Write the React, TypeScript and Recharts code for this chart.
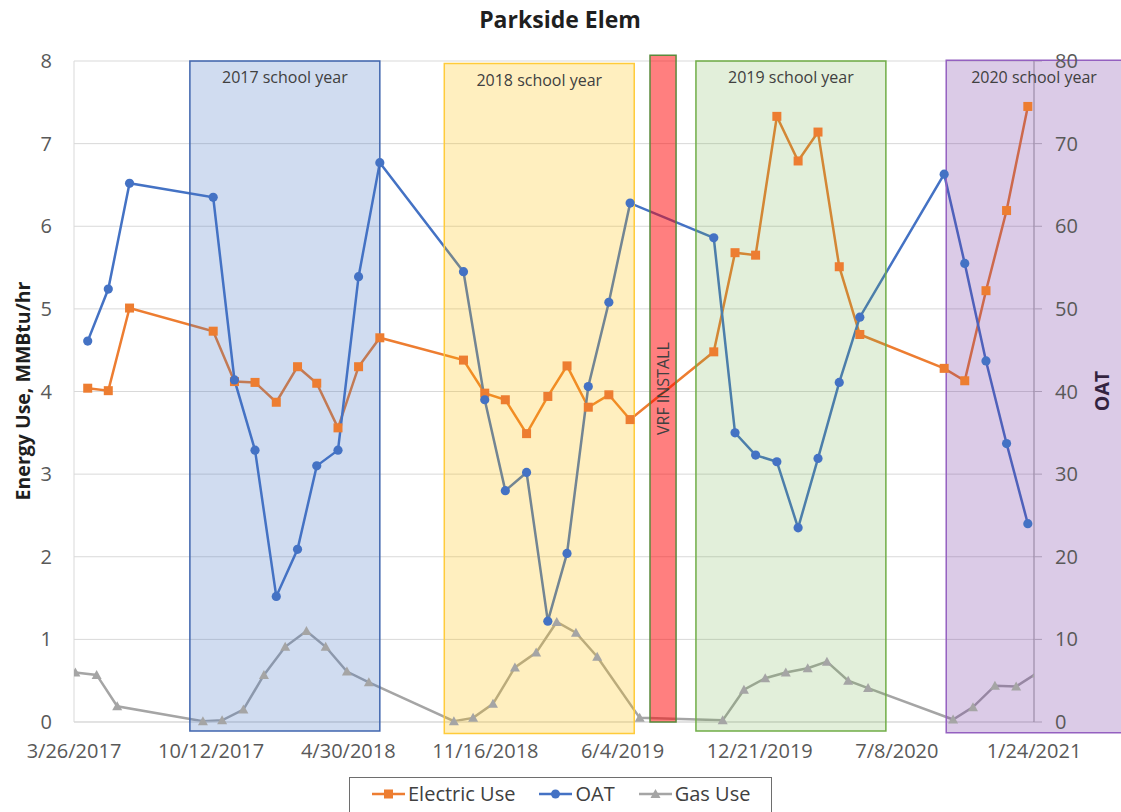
import React from "react";
import { LineChart, Line, XAxis, YAxis, CartesianGrid, ReferenceArea, Legend } from "recharts";

// monthly electric / OAT readings (mid-month)
const elecDates = [
  "2017-04-15", "2017-05-15", "2017-06-15",
  "2017-10-15", "2017-11-15", "2017-12-15", "2018-01-15", "2018-02-15", "2018-03-15", "2018-04-15", "2018-05-15", "2018-06-15",
  "2018-10-15", "2018-11-15", "2018-12-15", "2019-01-15", "2019-02-15", "2019-03-15", "2019-04-15", "2019-05-15", "2019-06-15",
  "2019-10-15", "2019-11-15", "2019-12-15", "2020-01-15", "2020-02-15", "2020-03-15", "2020-04-15", "2020-05-15",
  "2020-09-15", "2020-10-15", "2020-11-15", "2020-12-15", "2021-01-15",
];
const electricUse = [
  4.04, 4.01, 5.01,
  4.73, 4.12, 4.11, 3.87, 4.3, 4.1, 3.56, 4.3, 4.65,
  4.38, 3.98, 3.9, 3.49, 3.94, 4.31, 3.81, 3.96, 3.66,
  4.48, 5.68, 5.65, 7.33, 6.79, 7.14, 5.51, 4.69,
  4.28, 4.13, 5.22, 6.19, 7.45,
];
const oatValues = [
  46.1, 52.4, 65.2,
  63.5, 41.4, 32.9, 15.2, 20.9, 31.0, 32.9, 53.9, 67.7,
  54.5, 39.0, 28.0, 30.2, 12.2, 20.4, 40.6, 50.8, 62.8,
  58.6, 35.0, 32.3, 31.5, 23.5, 31.9, 41.1, 49.0,
  66.3, 55.5, 43.7, 33.7, 24.0,
];

// gas billing dates (end of month)
const gasDates = [
  "2017-03-28", "2017-04-28", "2017-05-28",
  "2017-09-30", "2017-10-28", "2017-11-28", "2017-12-28", "2018-01-28", "2018-02-28", "2018-03-28", "2018-04-28", "2018-05-30",
  "2018-10-01", "2018-10-29", "2018-11-27", "2018-12-29", "2019-01-29", "2019-02-28", "2019-03-28", "2019-04-28", "2019-06-29",
  "2019-10-28", "2019-11-28", "2019-12-29", "2020-01-28", "2020-02-29", "2020-03-28", "2020-04-28", "2020-05-27",
  "2020-09-28", "2020-10-27", "2020-11-28", "2020-12-29", "2021-01-28",
];
const gasUse = [
  0.6, 0.57, 0.19,
  0.01, 0.02, 0.15, 0.57, 0.91, 1.1, 0.91, 0.61, 0.48,
  0.01, 0.05, 0.22, 0.66, 0.84, 1.21, 1.08, 0.79, 0.05,
  0.02, 0.39, 0.53, 0.6, 0.65, 0.73, 0.5, 0.41,
  0.03, 0.18, 0.44, 0.43, 0.59,
];

const xTicks = ["2017-03-26", "2017-10-12", "2018-04-30", "2018-11-16", "2019-06-04", "2019-12-21", "2020-07-08", "2021-01-24"];
const leftTicks = [0, 1, 2, 3, 4, 5, 6, 7, 8];
const rightTicks = [0, 10, 20, 30, 40, 50, 60, 70, 80];
const legendOrder = ["electric", "oat", "gas"];

const periods = [
  { label: "2017 school year", start: "2017-09-11", end: "2018-06-15" },
  { label: "2018 school year", start: "2018-09-17", end: "2019-06-21" },
  { label: "VRF INSTALL", start: "2019-07-14", end: "2019-08-21" },
  { label: "2019 school year", start: "2019-09-19", end: "2020-06-22" },
  { label: "2020 school year", start: "2020-09-18", end: "2021-06-01" },
];

const periodStyles = [
  { fill: "#4472C4", op: 0.25, stroke: "#4066AE", lo: -0.11, hi: 8 },
  { fill: "#FFC000", op: 0.25, stroke: "#FFCB3A", lo: -0.14, hi: 7.97 },
  { fill: "#FF0000", op: 0.5, stroke: "#5A8A3C", lo: 0, hi: 8.07 },
  { fill: "#70AD47", op: 0.2, stroke: "#70AD47", lo: -0.11, hi: 8 },
  { fill: "#7030A0", op: 0.25, stroke: "#9460C0", lo: -0.13, hi: 8.01 },
];

const FONT = "'Open Sans', sans-serif";
const ELEC = "#ED7D31";
const OAT = "#4472C4";
const GAS = "#A5A5A5";

const toT = (s: string) => Date.parse(s);
const fmtDate = (v: number) => {
  const d = new Date(v);
  return `${d.getUTCMonth() + 1}/${d.getUTCDate()}/${d.getUTCFullYear()}`;
};

const elecData = elecDates.map((d, i) => ({ t: toT(d), electric: electricUse[i], oat: oatValues[i] }));
const gasData = gasDates.map((d, i) => ({ t: toT(d), gas: gasUse[i] }));

const squareDot = (p: any) =>
  p.cx == null ? <g key={p.key} /> : <rect key={p.key} x={p.cx - 4.5} y={p.cy - 4.5} width={9} height={9} fill={ELEC} />;
const circleDot = (p: any) =>
  p.cx == null ? <g key={p.key} /> : <circle key={p.key} cx={p.cx} cy={p.cy} r={4.6} fill={OAT} />;
const triDot = (p: any) =>
  p.cx == null ? (
    <g key={p.key} />
  ) : (
    <polygon key={p.key} points={`${p.cx},${p.cy - 5} ${p.cx + 5},${p.cy + 4} ${p.cx - 5},${p.cy + 4}`} fill={GAS} />
  );

function LegendIcon({ kind, color }: { kind: string; color: string }) {
  return (
    <svg width={33} height={20} style={{ display: "block", flexShrink: 0 }}>
      <line x1={0} y1={10} x2={33} y2={10} stroke={color} strokeWidth={2.5} />
      {kind === "electric" && <rect x={12} y={5.5} width={9} height={9} fill={color} />}
      {kind === "oat" && <circle cx={16.5} cy={10} r={4.5} fill={color} />}
      {kind === "gas" && <polygon points="16.5,5 21.5,14 11.5,14" fill={color} />}
    </svg>
  );
}

function LegendBox(props: any) {
  const items = [...((props.payload || []) as any[])].sort(
    (a, b) => legendOrder.indexOf(a.dataKey) - legendOrder.indexOf(b.dataKey)
  );
  return (
    <div
      style={{
        boxSizing: "border-box",
        height: 40,
        width: 423,
        border: "1px solid #6E6E6E",
        background: "#fff",
        display: "flex",
        alignItems: "center",
        paddingLeft: 22,
        paddingBottom: 6,
        fontFamily: FONT,
        whiteSpace: "nowrap",
      }}
    >
      {items.map((it) => (
        <div key={it.value} style={{ display: "flex", alignItems: "center", marginRight: 24, flexShrink: 0 }}>
          <LegendIcon kind={it.dataKey} color={it.color} />
          <span style={{ marginLeft: 3, fontSize: 20, color: "#404040", lineHeight: "26px", whiteSpace: "nowrap" }}>
            {it.value}
          </span>
        </div>
      ))}
    </div>
  );
}

export default function App() {
  return (
    <div style={{ width: 1121, height: 812, overflow: "hidden", position: "relative", background: "#fff", fontFamily: FONT }}>
      <style>{"body{margin:0}"}</style>
      <LineChart width={1121} height={812} margin={{ top: 61, right: 0, bottom: 0, left: 0 }}>
        <CartesianGrid yAxisId="left" vertical={false} stroke="#D9D9D9" />
        <XAxis
          dataKey="t"
          type="number"
          scale="linear"
          domain={[toT(xTicks[0]), toT(xTicks[xTicks.length - 1])]}
          ticks={xTicks.map(toT)}
          tickFormatter={fmtDate}
          allowDataOverflow
          interval={0}
          height={90}
          tickLine={false}
          tickSize={0}
          tickMargin={22}
          axisLine={{ stroke: "#D9D9D9" }}
          tick={{ fill: "#595959", fontSize: 20, fontFamily: FONT }}
        />
        <YAxis
          yAxisId="left"
          domain={[0, 8]}
          ticks={leftTicks}
          width={74}
          tickLine={false}
          tickSize={0}
          tickMargin={22}
          axisLine={{ stroke: "#D9D9D9" }}
          tick={{ fill: "#595959", fontSize: 20, fontFamily: FONT }}
        />
        <YAxis
          yAxisId="right"
          orientation="right"
          domain={[0, 80]}
          ticks={rightTicks}
          width={87}
          tickSize={8}
          tickMargin={13}
          tickLine={{ stroke: "#BFBFBF" }}
          axisLine={{ stroke: "#999999" }}
          tick={{ fill: "#595959", fontSize: 20, fontFamily: FONT, textAnchor: "start" }}
        />
        <Line
          yAxisId="left"
          data={elecData}
          dataKey="electric"
          name="Electric Use"
          stroke={ELEC}
          strokeWidth={2.5}
          dot={squareDot}
          activeDot={false}
          isAnimationActive={false}
        />
        <Line
          yAxisId="right"
          data={elecData}
          dataKey="oat"
          name="OAT"
          stroke={OAT}
          strokeWidth={2.5}
          dot={circleDot}
          activeDot={false}
          isAnimationActive={false}
        />
        <Line
          yAxisId="left"
          data={gasData}
          dataKey="gas"
          name="Gas Use"
          stroke={GAS}
          strokeWidth={2.5}
          dot={triDot}
          activeDot={false}
          isAnimationActive={false}
        />
        {periods.map((p, i) => {
          const s = periodStyles[i];
          const vertical = p.label === "VRF INSTALL";
          return (
            <ReferenceArea
              key={p.label}
              yAxisId="left"
              x1={toT(p.start)}
              x2={toT(p.end)}
              y1={s.lo}
              y2={s.hi}
              ifOverflow="visible"
              fill={s.fill}
              fillOpacity={s.op}
              stroke={s.stroke}
              strokeWidth={1.5}
              zIndex={600}
              label={
                vertical
                  ? { value: p.label, position: "center", angle: -90, fill: "#404040", fontSize: 16, fontFamily: FONT }
                  : { value: p.label, position: "insideTop", offset: 11, fill: "#404040", fontSize: 16, fontFamily: FONT }
              }
            />
          );
        })}
        <Legend
          layout="horizontal"
          verticalAlign="middle"
          align="center"
          width={423}
          height={40}
          wrapperStyle={{ left: 349, top: 777, width: 423, height: 40 }}
          content={LegendBox}
        />
        <text x={560} y={28} textAnchor="middle" fontFamily={FONT} fontWeight="bold" fontSize={23} fill="#1F1F1F">
          Parkside Elem
        </text>
        <text
          x={22}
          y={391}
          transform="rotate(-90 22 391)"
          textAnchor="middle"
          dominantBaseline="central"
          fontFamily={FONT}
          fontWeight="bold"
          fontSize={19.5}
          fill="#1F1F1F"
        >
          Energy Use, MMBtu/hr
        </text>
        <text
          x={1101}
          y={391}
          transform="rotate(-90 1101 391)"
          textAnchor="middle"
          dominantBaseline="central"
          fontFamily={FONT}
          fontWeight="bold"
          fontSize={19.5}
          fill="#1F1F1F"
        >
          OAT
        </text>
      </LineChart>
    </div>
  );
}
